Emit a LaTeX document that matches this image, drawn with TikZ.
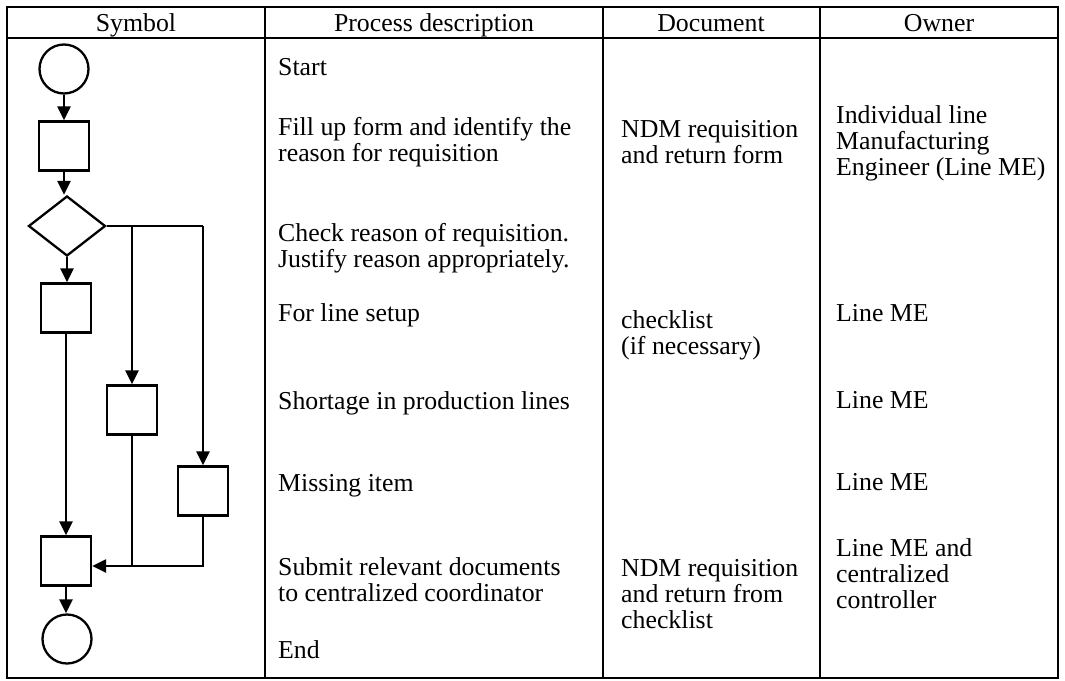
\documentclass[tikz,border=0pt]{standalone}
\usepackage{fontspec}
\setmainfont{Liberation Serif}
\usetikzlibrary{arrows.meta,shapes.geometric,calc}
\begin{document}
\begin{tikzpicture}[x=1pt,y=-1pt,
  rule/.style={line width=1.4pt},
  flow/.style={line width=2.3pt},
  arr/.style={flow,-{Triangle[length=14pt,width=13pt]}},
  stepbox/.style={draw,line width=2.3pt,minimum width=50pt,minimum height=49pt,inner sep=0pt},
  termc/.style={draw,circle,line width=2.3pt,minimum size=49pt,inner sep=0pt},
  decide/.style={draw,diamond,line width=2.3pt,minimum width=77pt,minimum height=60pt,inner sep=0pt},
  head/.style={anchor=base,inner sep=0pt,font=\fontsize{25.8}{26}\selectfont},
  % multi-line texts: the base anchor sits on the last line
  txt/.style={anchor=base west,align=left,inner sep=0pt,font=\fontsize{25.8}{26}\selectfont}]
\useasboundingbox (0,0) rectangle (1065,680);

% table frame and rules
\draw[rule] (7,7) rectangle (1058,678);
\draw[rule] (7,38) -- (1058,38);
\draw[rule] (265,7) -- (265,678);
\draw[rule] (603,7) -- (603,678);
\draw[rule] (820,7) -- (820,678);

% column headings
\node[head] (hsym) at (136,31) {Symbol};
\node[head] (hproc) at (434,31) {Process description};
\node[head] (hdoc) at (711,31) {Document};
\node[head] (hown) at (939,31) {Owner};

% flow chart symbols
\node[termc] (start) at (64,69) {};
\node[stepbox] (fill) at (64,146) {};
\node[decide] (check) at (67,226) {};
\node[stepbox] (setup) at (66,308) {};
\node[stepbox] (short) at (132,410) {};
\node[stepbox] (miss) at (203,491) {};
\node[stepbox] (submit) at (66,561) {};
\node[termc] (stop) at (67,639) {};

\draw[arr] (start.south) -- (start.south |- fill.north);
\draw[arr] (fill.south) -- (fill.south |- check.north);
\draw[arr] (check.south) -- (check.south |- setup.north);
\draw[flow] (check.east) -- (miss.north |- check.east);
\draw[arr] (short.north |- check.east) -- (short.north);
\draw[arr] (miss.north |- check.east) -- (miss.north);
\draw[arr] (setup.south) -- (setup.south |- submit.north);
\coordinate (join) at ($(submit.east)+(0,5)$);
\draw[flow] (short.south) -- (short.south |- join);
\draw[arr] (miss.south) |- (join);
\draw[arr] (submit.south) -- (submit.south |- stop.north);

% process descriptions
\node[txt] (p1) at (278,75) {Start};
\node[txt] (p2) at (278,161) {Fill up form and identify the\\reason for requisition};
\node[txt] (p3) at (278,267) {Check reason of requisition.\\Justify reason appropriately.};
\node[txt] (p4) at (278,321) {For line setup};
\node[txt] (p5) at (278,409) {Shortage in production lines};
\node[txt] (p6) at (278,491) {Missing item};
\node[txt] (p7) at (278,601) {Submit relevant documents\\to centralized coordinator};
\node[txt] (p8) at (278,658) {End};

% documents
\node[txt] (d1) at (621,163) {NDM requisition\\and return form};
\node[txt] (d2) at (621,354) {checklist\\(if necessary)};
\node[txt] (d3) at (621,628) {NDM requisition\\and return from\\checklist};

% owners
\node[txt] (o1) at (836,175) {Individual line\\Manufacturing\\Engineer (Line ME)};
\node[txt] (o2) at (836,321) {Line ME};
\node[txt] (o3) at (836,408) {Line ME};
\node[txt] (o4) at (836,490) {Line ME};
\node[txt] (o5) at (836,608) {Line ME and\\centralized\\controller};
\end{tikzpicture}
\end{document}
